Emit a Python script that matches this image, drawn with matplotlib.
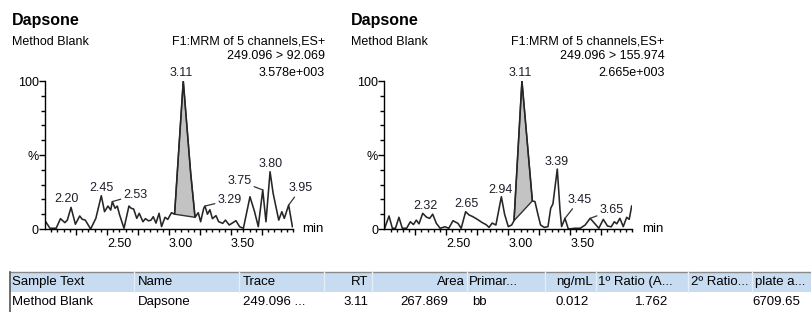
import numpy as np
import matplotlib
matplotlib.use('Agg')
import matplotlib.pyplot as plt
from matplotlib.patches import Rectangle, Polygon

plt.rcParams['font.family'] = ['Liberation Sans', 'DejaVu Sans']

W, H = 811, 312

# --- data -----------------------------------------------------------------
compound = 'Dapsone'
sample = 'Method Blank'
function = 'F1:MRM of 5 channels,ES+'
transitions = ['249.096 > 92.069', '249.096 > 155.974']
max_counts = ['3.578e+003', '2.665e+003']

# trace 1: 249.096 > 92.069  (rt in min, % of max)
rt_a = [2.005, 2.04, 2.09, 2.125, 2.16, 2.18, 2.21, 2.245, 2.28, 2.30, 2.325,
        2.368, 2.41, 2.454, 2.48, 2.508, 2.53, 2.543, 2.565, 2.583, 2.60,
        2.637, 2.677, 2.695, 2.715, 2.74, 2.76, 2.79, 2.81, 2.835, 2.855,
        2.873, 2.895, 2.92, 2.94, 2.968, 2.99, 3.02, 3.045, 3.115, 3.175,
        3.21, 3.236, 3.255, 3.28, 3.29, 3.31, 3.33, 3.35, 3.379, 3.40, 3.433,
        3.455, 3.486, 3.51, 3.54, 3.57, 3.60, 3.653, 3.69, 3.72, 3.756, 3.782,
        3.815, 3.84, 3.885, 3.91, 3.93, 3.965, 3.995]
int_a = [5, 0.5, 0.5, 7, 4.3, 6, 14.6, 3.2, 8.8, 6.6, 6,
         0, 7.2, 22.5, 11.7, 15.5, 12.8, 18.5, 14, 15.5, 10,
         0.5, 15.5, 14, 13.5, 7.2, 10.6, 4.9, 7, 5.5, 6,
         8.3, 4, 10.6, 1.6, 7.9, 6.5, 11, 10, 100, 37.6,
         7.9, 11, 4.9, 14, 15.5, 10, 13, 7, 9, 5, 3.8,
         6, 2.7, 4, 5.6, 1.5, 0.5, 21.8, 11.7, 1.6, 26.4, 4.9,
         38.7, 24, 6, 11.7, 7.2, 16.2, 1.6]

# trace 2: 249.096 > 155.974
rt_b = [2.003, 2.038, 2.065, 2.09, 2.118, 2.145, 2.18, 2.21, 2.235, 2.258,
        2.28, 2.31, 2.34, 2.366, 2.39, 2.42, 2.45, 2.49, 2.52, 2.554, 2.594,
        2.62, 2.656, 2.683, 2.71, 2.737, 2.76, 2.79, 2.82, 2.845, 2.87, 2.90,
        2.944, 2.97, 3.0, 3.027, 3.046, 3.11, 3.194, 3.215, 3.24, 3.26, 3.29,
        3.32, 3.342, 3.36, 3.395, 3.417, 3.43, 3.457, 3.484, 3.538, 3.58,
        3.62, 3.66, 3.70, 3.73, 3.766, 3.80, 3.83, 3.855, 3.875, 3.90, 3.927,
        3.955, 3.975, 3.995]
int_b = [0.5, 8.8, 0.5, 0.5, 7.9, 0.5, 0.5, 4.9, 3, 6,
         3.5, 10.6, 8, 7.2, 10, 3.8, 0.5, 1.5, 0.5, 5.6, 3.8,
         0.5, 11.7, 9.5, 8.5, 7.2, 6, 4.3, 3, 1.1, 4, 2.7,
         21.8, 10, 1.6, 2.7, 5.6, 100, 19, 18.5, 9.5, 2.7, 1.1,
         1.6, 14, 17, 40.5, 12.8, 1.6, 7.2, 0, 0.5, 0.5,
         2.7, 7.2, 3.4, 0.5, 6.5, 2, 1.5, 4.9, 3.5, 7.2, 1.6,
         7.9, 6.5, 15.5]

# integration window of the main peak (min)
integ_a = [3.045, 3.21]
integ_b = [3.046, 3.194]

# peak labels: text and retention time of the labelled peak
labels_a = ['3.11', '2.20', '2.45', '2.53', '3.29', '3.75', '3.80', '3.95']
label_rt_a = [3.115, 2.21, 2.454, 2.543, 3.29, 3.756, 3.815, 3.965]
labels_b = ['3.11', '2.32', '2.65', '2.94', '3.39', '3.45', '3.65']
label_rt_b = [3.11, 2.31, 2.656, 2.944, 3.395, 3.457, 3.66]

# results table
tbl_head = ['Sample Text', 'Name', 'Trace', 'RT', 'Area', 'Primar...', 'ng/mL',
            '1º Ratio (A...', '2º Ratio...', 'plate a...']
tbl_row = ['Method Blank', 'Dapsone', '249.096 ...', '3.11', '267.869', 'bb',
           '0.012', '1.762', '', '6709.65']

# --- layout ---------------------------------------------------------------
# label centre (rt, %) and whether a leader line is drawn
lab_pos_a = [(3.10, 105.5, False), (2.175, 20.5, False), (2.457, 27.5, False),
             (2.73, 23, True), (3.49, 19.6, True), (3.567, 32.4, True),
             (3.82, 44, False), (4.065, 27.5, True)]
lab_pos_b = [(3.10, 105.5, False), (2.328, 15.5, False), (2.659, 17, False),
             (2.939, 26.5, False), (3.39, 45.5, False), (3.573, 19.6, True),
             (3.834, 12.6, True)]

fig = plt.figure(figsize=(W / 100, H / 100), dpi=100)


def fx(x):
    return x / W


def fy(y):
    return 1 - y / H


def panel(x0, rt, inten, integ, labels, label_rt, lab_pos, trans, counts):
    ax = fig.add_axes([fx(x0), fy(229), 248 / W, 148 / H])
    rt = np.array(rt)
    inten = np.array(inten)

    # integrated peak area
    s, e = integ
    ys, ye = np.interp(s, rt, inten), np.interp(e, rt, inten)
    m = (rt > s) & (rt < e)
    verts = [(s, ys)] + list(zip(rt[m], inten[m])) + [(e, ye)]
    ax.add_patch(Polygon(verts, closed=True, facecolor='#c3c3c3',
                         edgecolor='#333333', lw=1.0, zorder=1))
    ax.plot(rt, inten, color='#262626', lw=1.15, zorder=2)

    for txt, prt, (lt, lv, leader) in zip(labels, label_rt, lab_pos):
        pv = np.interp(prt, rt, inten)
        if leader:
            ax.annotate(txt, xy=(prt, pv), xytext=(lt, lv), ha='center',
                        va='center', fontsize=9, color='#1e1e2a',
                        annotation_clip=False,
                        arrowprops=dict(arrowstyle='-', color='#333333',
                                        lw=0.9, shrinkA=0, shrinkB=0))
        else:
            ax.text(lt, lv, txt, ha='center', va='center', fontsize=9,
                    color='#1e1e2a', clip_on=False)

    ax.set_xlim(2.0, 4.0)
    ax.set_ylim(0, 100)
    for sp in ['top', 'right']:
        ax.spines[sp].set_visible(False)
    for sp in ['left', 'bottom']:
        ax.spines[sp].set_linewidth(1.0)

    major = [2.25, 2.5, 2.75, 3.0, 3.25, 3.5, 3.75]
    ax.set_xticks(major, ['', '2.50', '', '3.00', '', '3.50', ''])
    ax.set_xticks(np.arange(2.05, 4.001, 0.05), minor=True)
    for lbl in ax.get_xticklabels():
        lbl.set_horizontalalignment('left')
    ax.set_yticks([0, 50, 100], ['0', '%', '100'])
    ax.set_yticks(np.arange(10, 100, 10), minor=True)
    ax.tick_params(axis='x', which='major', length=4, width=1, pad=2.5,
                   labelsize=9)
    ax.tick_params(axis='x', which='minor', length=2.4, width=1)
    ax.tick_params(axis='y', which='major', length=4, width=1, pad=0.5,
                   labelsize=9)
    ax.tick_params(axis='y', which='minor', length=2.8, width=1)
    ax.text(1.038, 0, 'min', transform=ax.transAxes, ha='left', va='center',
            fontsize=9.5)

    # header texts
    xl = x0 - 33
    xr = x0 + 280
    fig.text(fx(xl), fy(20), compound, fontsize=11.5, fontweight='bold',
             ha='left', va='center')
    fig.text(fx(xl), fy(42), sample, fontsize=9, ha='left', va='center')
    fig.text(fx(xr), fy(42), function, fontsize=9, ha='right', va='center')
    fig.text(fx(xr), fy(56), trans, fontsize=9, ha='right', va='center')
    fig.text(fx(xr), fy(72.5), counts, fontsize=9, ha='right', va='center')
    return ax


panel(45, rt_a, int_a, integ_a, labels_a, label_rt_a, lab_pos_a,
      transitions[0], max_counts[0])
panel(384.3, rt_b, int_b, integ_b, labels_b, label_rt_b, lab_pos_b,
      transitions[1], max_counts[1])

# --- results table --------------------------------------------------------
top, mid, bot = 272, 292, 312
fig.add_artist(Rectangle((fx(10), fy(mid)), 1 - fx(10), (mid - top) / H,
                         transform=fig.transFigure, facecolor='#c7dbf1',
                         edgecolor='none'))
fig.add_artist(plt.Line2D([fx(10), 1], [fy(top), fy(top)],
                          transform=fig.transFigure, color='#8a8a8a', lw=1))
fig.add_artist(plt.Line2D([fx(10), fx(10)], [fy(top), fy(bot)],
                          transform=fig.transFigure, color='#555555', lw=1.2))
for sx in [134, 239, 324, 372, 467, 545, 596, 688, 752]:
    fig.add_artist(plt.Line2D([fx(sx), fx(sx)], [fy(top), fy(mid)],
                              transform=fig.transFigure, color='#e8eef6',
                              lw=1))

head_pos = [(12, 'left'), (138, 'left'), (243, 'left'), (368, 'right'),
            (465, 'right'), (469, 'left'), (556, 'left'), (598, 'left'),
            (691, 'left'), (755, 'left')]
row_pos = [(12, 'left'), (138, 'left'), (243, 'left'), (368, 'right'),
           (448, 'right'), (472, 'left'), (556, 'left'), (668, 'right'),
           (691, 'left'), (752, 'left')]
for txt, (x, ha) in zip(tbl_head, head_pos):
    fig.text(fx(x), fy(282), txt, fontsize=9.5, ha=ha, va='center')
for txt, (x, ha) in zip(tbl_row, row_pos):
    fig.text(fx(x), fy(302), txt, fontsize=9.5, ha=ha, va='center')

fig.savefig('out.png', dpi=100)
